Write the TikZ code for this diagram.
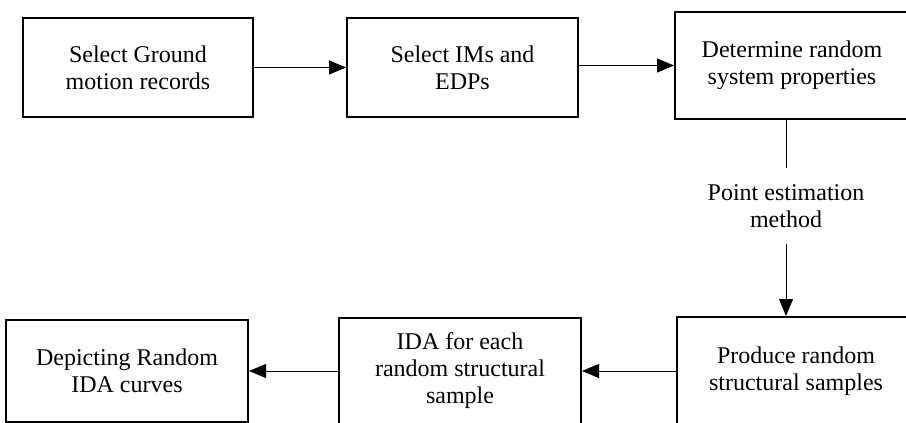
\documentclass[tikz,border=0pt]{standalone}
\usepackage{fontspec}
\setmainfont{Liberation Serif}
\usepackage{tikz}
\usetikzlibrary{positioning}
\usetikzlibrary{calc}
\usetikzlibrary{arrows.meta}
\tikzset{
	process/.style={
		draw, line width=1pt, align=center, inner sep=0pt,
		font=\fontsize{12}{13.5}\selectfont
	},
	flow/.style={
		line width=0.5pt, -{Triangle[length=8.5pt,width=7pt]}
	},
	plain line/.style={
		line width=0.5pt
	},
	method label/.style={
		align=center, inner xsep=2pt, inner ysep=8pt,
		font=\fontsize{12}{13.5}\selectfont
	}
}

\begin{document}
\begin{tikzpicture}[x=1pt,y=-1pt]
    \clip (0,0) rectangle (453,211.5);
    \node [process, minimum width=115pt, minimum height=49.5pt] (ground) at (69,33.75) {Select Ground\\motion records};
    \node [process, minimum width=115.5pt, minimum height=49.5pt, right=46pt of ground] (imsedps) {Select IMs and\\EDPs};
    \node [process, minimum width=117pt, minimum height=53.5pt, anchor=north west] (randprops) at (337,5.5) {Determine random\\system properties};

    \node [method label] (pem) at (393,103) {Point estimation\\method};

    \node [process, minimum width=119pt, minimum height=54pt, anchor=north west] (produce) at (338,158) {Produce random\\structural samples};
    \node [process, minimum width=121pt, minimum height=53pt, left=47pt of produce] (idaeach) {IDA for each\\random structural\\sample};
    \node [process, minimum width=121pt, minimum height=51pt, left=44.5pt of idaeach] (depict) {Depicting Random\\IDA curves};

    \draw [flow] (ground) -- (imsedps);
    \draw [flow] (imsedps.east |- randprops.west) -- (randprops.west);
    \draw [plain line] (pem.north |- randprops.south) -- (pem.north);
    \draw [flow] (pem.south) -- (pem.south |- produce.north);
    \draw [flow] (produce) -- (idaeach);
    \draw [flow] (idaeach) -- (depict);
\end{tikzpicture}
\end{document}
